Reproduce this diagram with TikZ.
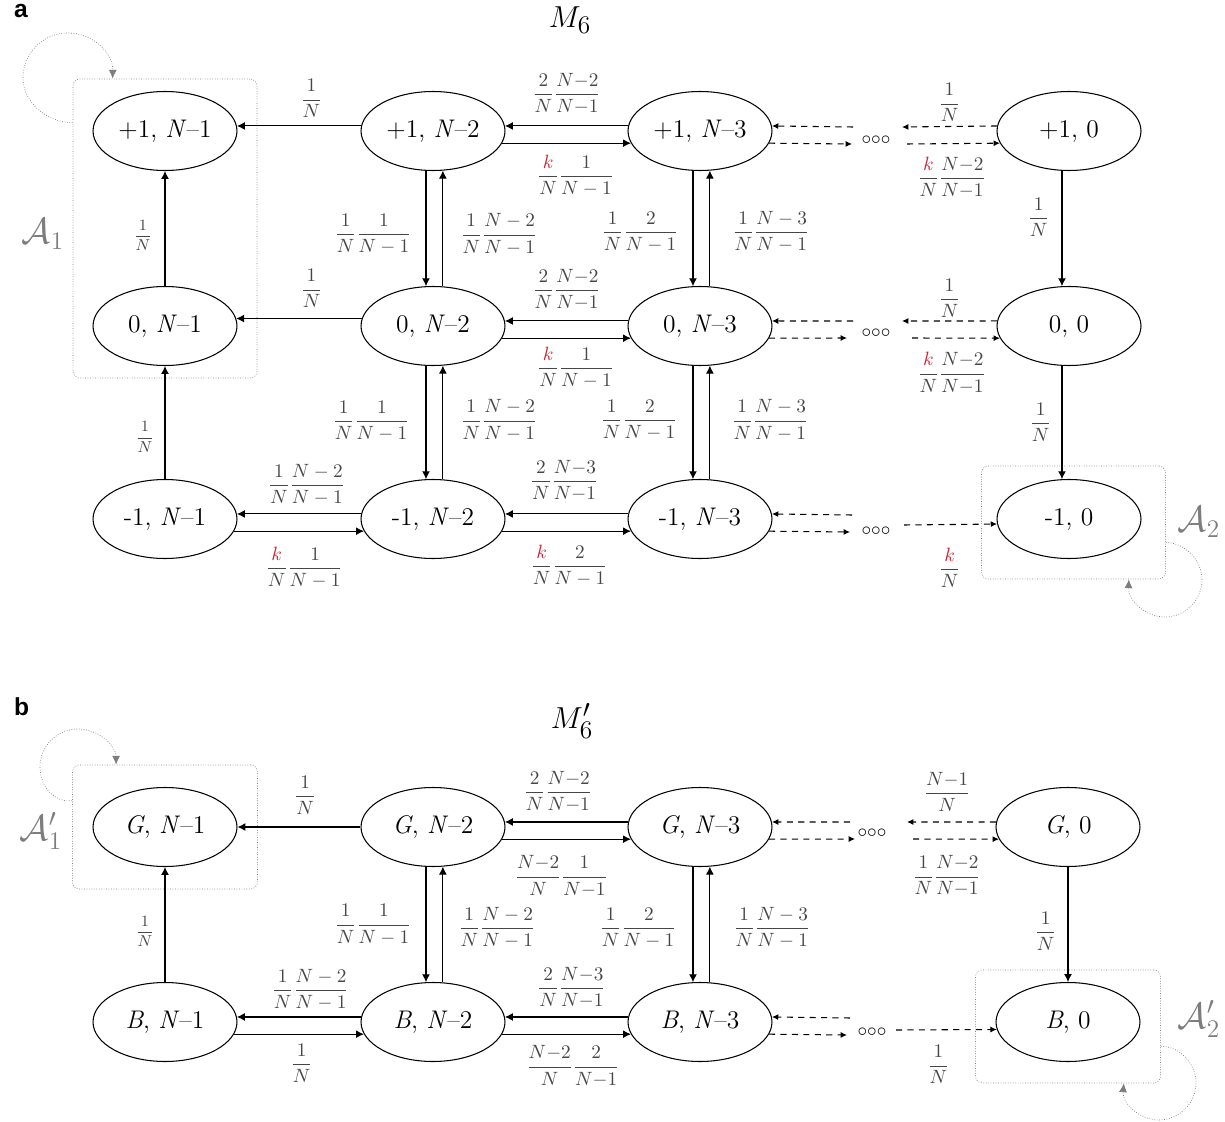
\documentclass[tikz,border=0pt]{standalone}
\usepackage{amsmath}
\usepackage{fontspec}
\newfontfamily\panelfont{Liberation Sans}
\usetikzlibrary{arrows.meta,positioning,fit,calc,shapes.geometric}
\definecolor{kred}{RGB}{204,34,51}
\definecolor{lblgray}{RGB}{70,70,70}
\definecolor{boxgray}{RGB}{125,125,125}
\newcommand{\fr}[2]{\dfrac{#1}{#2}}
\newcommand{\kk}{\textcolor{kred}{k}}

\begin{document}
\begin{tikzpicture}[x=0.02cm, y=-0.02cm,
    stnode/.style={draw, ellipse, semithick, minimum width=2.88cm, minimum height=1.58cm, inner sep=0pt, font=\fontsize{14.5}{16}\selectfont},
    arr/.style={semithick, -{Latex[length=4.5pt,width=4.5pt]}},
    darr/.style={arr, dash pattern=on 3.5pt off 3pt, -{Latex[length=3.6pt,width=3.4pt]}},
    lbl/.style={font=\fontsize{10.5}{12}\selectfont, text=lblgray, inner sep=0pt},
    lblsm/.style={lbl, font=\fontsize{9.5}{11}\selectfont},
    grp/.style={draw=boxgray, densely dotted, thin, rounded corners=4pt},
    selfloop/.style={draw=boxgray, densely dotted, thin, -{Latex[length=5pt,width=4.5pt]}},
    setlbl/.style={font=\fontsize{20}{22}\selectfont, text=boxgray, inner sep=1pt},
    dotsnode/.style={font=\fontsize{10.5}{12}\selectfont, inner sep=0pt}
]
    \useasboundingbox (0,0) rectangle (1225,1122);

    % panel a
    \node[font={\panelfont\bfseries\fontsize{14}{16}\selectfont}, anchor=base west] (panA) at (8,18) {a};
    \node[font=\fontsize{19}{22}\selectfont] (titA) at (570,20) {$M_6$};

    \node[stnode] (p1) at (165,131) {+1, \textit{N}--1};
    \node[stnode] (p2) at (433,131) {+1, \textit{N}--2};
    \node[stnode] (p3) at (700,131) {+1, \textit{N}--3};
    \node[stnode] (p4) at (1069,131) {+1, 0};
    \node[stnode] (z1) at (165,326) {0, \textit{N}--1};
    \node[stnode] (z2) at (433,326) {0, \textit{N}--2};
    \node[stnode] (z3) at (700,326) {0, \textit{N}--3};
    \node[stnode] (z4) at (1069,326) {0, 0};
    \node[stnode] (m1) at (165,519) {-1, \textit{N}--1};
    \node[stnode] (m2) at (433,519) {-1, \textit{N}--2};
    \node[stnode] (m3) at (700,519) {-1, \textit{N}--3};
    \node[stnode] (m4) at (1069,519) {-1, 0};

    \node[dotsnode] (dP) at (876,140) {${\circ}{\circ}{\circ}$};
    \node[dotsnode] (dZ) at (876,333) {${\circ}{\circ}{\circ}$};
    \node[dotsnode] (dM) at (876,531) {${\circ}{\circ}{\circ}$};

    \node[grp, fit=(p1)(z1), inner xsep=0.39cm, inner ysep=0.24cm] (A1) {};
    \node[grp, fit=(m4), inner xsep=0.39cm, inner ysep=0.33cm, xshift=0.09cm, yshift=-0.07cm] (A2) {};
    \node[setlbl] (A1lbl) at (43,234) {$\mathcal{A}_1$};
    \node[setlbl] (A2lbl) at (1199,522) {$\mathcal{A}_2$};
    \draw[selfloop] ($(A1.north west)+(0,44)$) .. controls (48,123) and (23,103) .. (23,78)
        .. controls (23,53) and (43,33) .. (68,33) .. controls (93,33) and (113,53) .. ($(A1.north west)+(40,0)$);
    \draw[selfloop] ($(A2.south east)+(0,-37)$) .. controls (1185,543) and (1202,560) .. (1202,580)
        .. controls (1202,600) and (1185,617) .. (1165,617) .. controls (1145,617) and (1128,600) .. ($(A2.south east)+(-37,0)$);

    % row +1
    \draw[arr] (p2.176) -- node[lbl, above=0.15cm, pos=0.4] {$\fr{1}{N}$} (p1.4);
    \draw[arr] (p3.176) -- node[lbl, above=0.22cm] {$\fr{2}{N}\fr{N{-}2}{N{-}1}$} (p2.4);
    \draw[arr] (p2.-10) -- node[lbl, below=0.22cm, pos=0.57] {$\fr{\kk}{N}\fr{1}{N-1}$} (p3.190);
    \draw[darr] ($(dP)+(-23,-13)$) -- (p3.4);
    \draw[darr] (p3.-10) -- ($(dP)+(-24,4)$);
    \draw[darr] (p4.176) -- node[lbl, above=0.08cm] {$\fr{1}{N}$} ($(dP)+(26,-13)$);
    \draw[darr] ($(dP)+(31,4)$) -- node[lbl, below=0.26cm, pos=0.48] {$\fr{\kk}{N}\fr{N{-}2}{N{-}1}$} (p4.190);

    % +1 -> 0
    \draw[arr] (z1.north) -- node[lblsm, left=0.24cm, pos=0.44] {$\fr{1}{N}$} (p1.south);
    \draw[arr] (p2.260) -- node[lbl, left=0.28cm, pos=0.55] {$\fr{1}{N}\fr{1}{N-1}$} (z2.100);
    \draw[arr] (z2.76) -- node[lbl, right=0.34cm, pos=0.45] {$\fr{1}{N}\fr{N-2}{N-1}$} (p2.284);
    \draw[arr] (p3.260) -- node[lbl, left=0.28cm, pos=0.53] {$\fr{1}{N}\fr{2}{N-1}$} (z3.100);
    \draw[arr] (z3.76) -- node[lbl, right=0.44cm, pos=0.47] {$\fr{1}{N}\fr{N-3}{N-1}$} (p3.284);
    \draw[arr] (p4.260) -- node[lbl, left=0.24cm, pos=0.4] {$\fr{1}{N}$} (z4.100);

    % row 0
    \draw[arr] (z2.174) -- node[lbl, above=0.2cm, pos=0.4] {$\fr{1}{N}$} (z1.6);
    \draw[arr] (z3.176) -- node[lbl, above=0.2cm] {$\fr{2}{N}\fr{N{-}2}{N{-}1}$} (z2.4);
    \draw[arr] (z2.-10) -- node[lbl, below=0.16cm, pos=0.57] {$\fr{\kk}{N}\fr{1}{N-1}$} (z3.190);
    \draw[darr] ($(dZ)+(-23,-12)$) -- (z3.4);
    \draw[darr] (z3.-10) -- ($(dZ)+(-29,5)$);
    \draw[darr] (z4.176) -- node[lbl, above=0.06cm] {$\fr{1}{N}$} ($(dZ)+(26,-12)$);
    \draw[darr] ($(dZ)+(36,5)$) -- node[lbl, below=0.28cm, pos=0.45] {$\fr{\kk}{N}\fr{N{-}2}{N{-}1}$} (z4.190);

    % 0 -> -1
    \draw[arr] (m1.north) -- node[lblsm, left=0.2cm, pos=0.37] {$\fr{1}{N}$} (z1.south);
    \draw[arr] (z2.260) -- node[lbl, left=0.32cm, pos=0.49] {$\fr{1}{N}\fr{1}{N-1}$} (m2.100);
    \draw[arr] (m2.76) -- node[lbl, right=0.34cm, pos=0.52] {$\fr{1}{N}\fr{N-2}{N-1}$} (z2.284);
    \draw[arr] (z3.260) -- node[lbl, left=0.3cm, pos=0.48] {$\fr{1}{N}\fr{2}{N-1}$} (m3.100);
    \draw[arr] (m3.76) -- node[lbl, right=0.42cm, pos=0.52] {$\fr{1}{N}\fr{N-3}{N-1}$} (z3.284);
    \draw[arr] (z4.260) -- node[lbl, left=0.2cm, pos=0.5] {$\fr{1}{N}$} (m4.100);

    % row -1
    \draw[arr] (m2.176) -- node[lbl, above=0.16cm, pos=0.44] {$\fr{1}{N}\fr{N-2}{N-1}$} (m1.4);
    \draw[arr] (m1.-10) -- node[lbl, below=0.3cm, pos=0.54] {$\fr{\kk}{N}\fr{1}{N-1}$} (m2.190);
    \draw[arr] (m3.176) -- node[lbl, above=0.24cm, pos=0.52] {$\fr{2}{N}\fr{N{-}3}{N{-}1}$} (m2.4);
    \draw[arr] (m2.-10) -- node[lbl, below=0.26cm, pos=0.52] {$\fr{\kk}{N}\fr{2}{N-1}$} (m3.190);
    \draw[darr] ($(dM)+(-24,-16)$) -- (m3.4);
    \draw[darr] (m3.-10) -- ($(dM)+(-26,1)$);
    \draw[darr] ($(dM)+(28,-6)$) -- node[lbl, below=0.46cm, pos=0.49] {$\fr{\kk}{N}$} (m4.184);

    % panel b
    \node[font={\panelfont\bfseries\fontsize{14}{16}\selectfont}, anchor=base west] (panB) at (8,715) {b};
    \node[font=\fontsize{19}{22}\selectfont] (titB) at (572,721) {$M'_6$};

    \node[stnode] (g1) at (165,827) {\textit{G}, \textit{N}--1};
    \node[stnode] (g2) at (433,827) {\textit{G}, \textit{N}--2};
    \node[stnode] (g3) at (700,827) {\textit{G}, \textit{N}--3};
    \node[stnode] (g4) at (1068,827) {\textit{G}, 0};
    \node[stnode] (b1) at (165,1022) {\textit{B}, \textit{N}--1};
    \node[stnode] (b2) at (433,1022) {\textit{B}, \textit{N}--2};
    \node[stnode] (b3) at (700,1022) {\textit{B}, \textit{N}--3};
    \node[stnode] (b4) at (1068,1022) {\textit{B}, 0};

    \node[dotsnode] (dG) at (872,833) {${\circ}{\circ}{\circ}$};
    \node[dotsnode] (dB) at (872,1032) {${\circ}{\circ}{\circ}$};

    \node[grp, fit=(g1), inner xsep=0.4cm, inner ysep=0.44cm] (A1p) {};
    \node[grp, fit=(b4), inner xsep=0.4cm, inner ysep=0.33cm, yshift=-0.09cm] (A2p) {};
    \node[setlbl] (A1plbl) at (41,831) {$\mathcal{A}'_1$};
    \node[setlbl] (A2plbl) at (1199,1019) {$\mathcal{A}'_2$};
    \draw[selfloop] ($(A1p.north west)+(0,36)$) .. controls (55,803) and (40,787) .. (40,767)
        .. controls (40,746) and (57,729) .. (78,729) .. controls (99,729) and (116,746) .. ($(A1p.north west)+(44,0)$);
    \draw[selfloop] ($(A2p.south east)+(0,-37)$) .. controls (1179,1046) and (1196,1063) .. (1196,1083)
        .. controls (1196,1103) and (1179,1120) .. (1159,1120) .. controls (1139,1120) and (1122,1103) .. ($(A2p.south east)+(-37,0)$);

    % row G
    \draw[arr] (g2.west) -- node[lbl, above=0.24cm, pos=0.45] {$\fr{1}{N}$} (g1.east);
    \draw[arr] (g3.176) -- node[lbl, above=0.18cm, pos=0.57] {$\fr{2}{N}\fr{N{-}2}{N{-}1}$} (g2.4);
    \draw[arr] (g2.-10) -- node[lbl, below=0.32cm, pos=0.46] {$\fr{N{-}2}{N}\fr{1}{N{-}1}$} (g3.190);
    \draw[darr] ($(dG)+(-22,-11)$) -- (g3.4);
    \draw[darr] (g3.-10) -- ($(dG)+(-17,6)$);
    \draw[darr] (g4.176) -- node[lbl, above=0.2cm, pos=0.55] {$\fr{N{-}1}{N}$} ($(dG)+(35,-11)$);
    \draw[darr] ($(dG)+(41,6)$) -- node[lbl, below=0.32cm, pos=0.39] {$\fr{1}{N}\fr{N{-}2}{N{-}1}$} (g4.190);

    % G -> B
    \draw[arr] (b1.north) -- node[lblsm, left=0.2cm, pos=0.44] {$\fr{1}{N}$} (g1.south);
    \draw[arr] (g2.260) -- node[lbl, left=0.28cm, pos=0.5] {$\fr{1}{N}\fr{1}{N-1}$} (b2.100);
    \draw[arr] (b2.76) -- node[lbl, right=0.3cm, pos=0.47] {$\fr{1}{N}\fr{N-2}{N-1}$} (g2.284);
    \draw[arr] (g3.260) -- node[lbl, left=0.32cm, pos=0.53] {$\fr{1}{N}\fr{2}{N-1}$} (b3.100);
    \draw[arr] (b3.76) -- node[lbl, right=0.46cm, pos=0.47] {$\fr{1}{N}\fr{N-3}{N-1}$} (g3.284);
    \draw[arr] (g4.south) -- node[lbl, left=0.22cm, pos=0.56] {$\fr{1}{N}$} (b4.north);

    % row B
    \draw[arr] (b2.176) -- node[lbl, above=0.12cm, pos=0.41] {$\fr{1}{N}\fr{N-2}{N-1}$} (b1.4);
    \draw[arr] (b1.-10) -- node[lbl, below=0.18cm, pos=0.52] {$\fr{1}{N}$} (b2.190);
    \draw[arr] (b3.176) -- node[lbl, above=0.16cm, pos=0.46] {$\fr{2}{N}\fr{N{-}3}{N{-}1}$} (b2.4);
    \draw[arr] (b2.-10) -- node[lbl, below=0.22cm, pos=0.55] {$\fr{N{-}2}{N}\fr{2}{N{-}1}$} (b3.190);
    \draw[darr] ($(dB)+(-22,-14)$) -- (b3.4);
    \draw[darr] (b3.-10) -- ($(dB)+(-25,3)$);
    \draw[darr] ($(dB)+(24,-2)$) -- node[lbl, below=0.3cm, pos=0.42] {$\fr{1}{N}$} (b4.186);
\end{tikzpicture}
\end{document}
